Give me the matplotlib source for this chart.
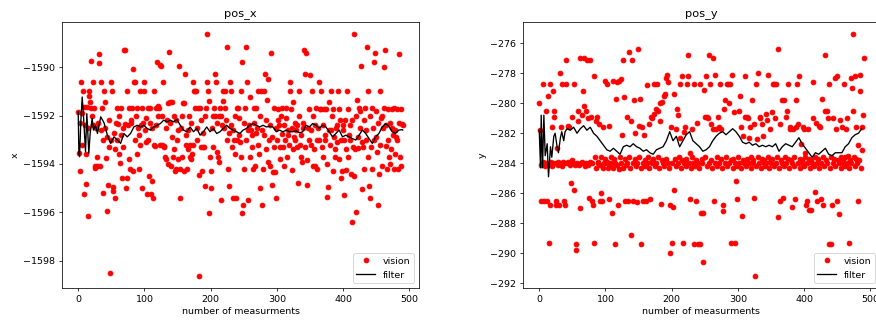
import numpy as np
import matplotlib
matplotlib.use("Agg")
import matplotlib.pyplot as plt

# vision measurements, x position (one value per measurement 0..490)
vision_x = [
    -1591.85, -1593.56, -1594.28, -1592.3, -1590.63, -1593.2, -1591.9, -1591.0, -1591.65, -1595.25,
    -1592.4, -1594.84, -1593.6, -1591.65, -1592.5, -1596.17, -1591.0, -1591.2, -1591.44, -1591.67,
    -1589.73, -1592.0, -1590.63, -1592.4, -1591.7, -1594.1, -1594.18, -1592.5, -1593.7, -1594.1,
    -1592.3, -1589.45, -1589.84, -1594.1, -1590.63, -1592.6, -1591.67, -1593.0, -1595.2, -1591.0,
    -1592.5, -1591.44, -1593.77, -1592.9, -1595.94, -1594.87, -1593.3, -1592.2, -1598.5, -1593.0,
    -1590.63, -1591.0, -1594.94, -1595.1, -1592.7, -1593.4, -1595.42, -1592.3, -1591.67, -1593.0,
    -1592.35, -1593.6, -1592.0, -1593.97, -1592.8, -1591.7, -1594.6, -1592.5, -1593.3, -1589.3,
    -1592.35, -1589.3, -1595.0, -1594.6, -1591.0, -1592.4, -1593.8, -1591.67, -1594.2, -1592.2,
    -1592.3, -1591.67, -1594.3, -1590.07, -1590.63, -1593.0, -1590.63, -1592.0, -1591.67, -1593.6,
    -1592.5, -1594.2, -1592.8, -1593.2, -1591.0, -1592.4, -1591.67, -1595.0, -1592.3, -1590.63,
    -1591.0, -1592.6, -1593.1, -1592.12, -1595.25, -1593.0, -1591.67, -1594.5, -1592.3, -1591.67,
    -1595.25, -1594.7, -1592.5, -1595.4, -1591.0, -1593.2, -1593.25, -1592.4, -1591.67, -1589.8,
    -1592.0, -1591.6, -1591.67, -1589.9, -1593.2, -1589.97, -1593.2, -1592.0, -1590.63, -1593.25,
    -1593.3, -1593.7, -1592.5, -1593.8, -1592.2, -1594.0, -1591.5, -1589.38, -1592.3, -1591.44,
    -1594.1, -1591.44, -1592.9, -1593.7, -1593.4, -1592.0, -1594.3, -1592.2, -1594.2, -1593.0,
    -1592.6, -1593.8, -1589.97, -1595.42, -1594.22, -1592.5, -1593.7, -1592.0, -1591.5, -1594.3,
    -1591.5, -1590.3, -1592.8, -1593.2, -1594.2, -1592.6, -1593.4, -1592.0, -1593.2, -1593.7,
    -1593.8, -1592.3, -1593.6, -1593.2, -1590.63, -1591.0, -1591.0, -1591.67, -1591.0, -1592.5,
    -1593.0, -1591.67, -1594.47, -1598.63, -1591.67, -1592.2, -1593.3, -1594.3, -1592.7, -1593.3,
    -1593.3, -1592.0, -1594.9, -1591.7, -1590.63, -1588.63, -1591.0, -1591.4, -1596.04, -1593.7,
    -1594.3, -1595.0, -1592.5, -1592.0, -1593.3, -1591.7, -1590.3, -1592.0, -1590.63, -1593.5,
    -1592.3, -1593.7, -1592.0, -1593.9, -1591.67, -1592.0, -1595.5, -1592.4, -1591.0, -1591.4,
    -1592.5, -1591.67, -1591.0, -1592.2, -1593.0, -1589.15, -1594.2, -1592.7, -1594.9, -1590.63,
    -1592.4, -1591.0, -1593.3, -1592.6, -1595.42, -1593.0, -1592.0, -1593.6, -1595.42, -1591.67,
    -1593.0, -1591.7, -1592.1, -1592.8, -1593.1, -1593.7, -1591.0, -1596.04, -1589.8, -1595.7,
    -1592.3, -1594.2, -1591.7, -1593.0, -1589.15, -1590.63, -1592.6, -1595.5, -1592.4, -1591.23,
    -1593.7, -1592.6, -1592.8, -1593.3, -1594.2, -1592.3, -1591.67, -1594.1, -1592.7, -1591.7,
    -1592.5, -1593.2, -1591.0, -1593.6, -1595.0, -1592.0, -1591.0, -1595.7, -1592.6, -1594.2,
    -1591.0, -1592.8, -1590.3, -1593.4, -1592.2, -1591.34, -1593.9, -1590.5, -1593.0, -1594.1,
    -1592.4, -1589.42, -1594.87, -1592.9, -1594.33, -1593.3, -1591.7, -1594.33, -1595.42, -1592.5,
    -1593.0, -1592.2, -1591.71, -1592.4, -1593.8, -1593.3, -1592.0, -1592.75, -1591.7, -1593.3,
    -1594.1, -1592.4, -1593.0, -1592.12, -1591.7, -1593.7, -1592.6, -1592.8, -1593.2, -1590.63,
    -1591.0, -1591.71, -1592.5, -1594.25, -1593.4, -1591.44, -1592.9, -1593.0, -1592.3, -1592.6,
    -1593.3, -1592.4, -1594.77, -1592.0, -1590.99, -1593.2, -1593.7, -1592.8, -1593.9, -1592.5,
    -1592.3, -1589.3, -1590.3, -1593.3, -1589.42, -1593.84, -1594.87, -1592.5, -1591.71, -1593.0,
    -1590.34, -1592.6, -1593.2, -1591.0, -1592.0, -1594.1, -1593.4, -1592.4, -1594.1, -1591.7,
    -1592.99, -1594.2, -1592.5, -1590.63, -1593.0, -1591.71, -1591.0, -1591.71, -1593.3, -1593.7,
    -1592.4, -1591.71, -1593.0, -1592.8, -1591.71, -1594.0, -1595.38, -1594.97, -1592.6, -1591.44,
    -1593.2, -1590.99, -1592.6, -1592.0, -1594.3, -1591.71, -1592.9, -1593.4, -1593.7, -1592.5,
    -1593.1, -1592.4, -1591.0, -1593.8, -1591.71, -1592.2, -1593.0, -1594.6, -1594.3, -1592.6,
    -1592.4, -1593.0, -1595.3, -1592.2, -1593.4, -1594.25, -1591.0, -1591.71, -1593.7, -1592.8,
    -1593.0, -1592.4, -1594.4, -1596.38, -1592.2, -1593.3, -1588.63, -1594.5, -1593.4, -1595.97,
    -1592.0, -1591.34, -1592.9, -1593.35, -1591.7, -1592.5, -1591.8, -1589.97, -1595.05, -1593.1,
    -1593.3, -1592.2, -1594.2, -1591.67, -1592.6, -1593.0, -1589.15, -1593.7, -1591.0, -1594.9,
    -1595.42, -1592.0, -1593.3, -1591.7, -1594.2, -1592.5, -1589.8, -1593.0, -1589.4, -1591.8,
    -1592.9, -1593.5, -1595.7, -1592.3, -1594.4, -1591.0, -1593.2, -1592.1, -1594.1, -1592.0,
    -1592.5, -1590.0, -1591.7, -1589.3, -1593.25, -1592.4, -1594.2, -1591.71, -1593.0, -1593.7,
    -1592.3, -1594.0, -1593.4, -1591.71, -1592.5, -1592.8, -1594.2, -1591.7, -1593.6, -1592.6,
    -1592.9, -1591.71, -1593.0, -1594.2, -1592.3, -1589.45, -1593.7, -1594.1, -1591.71, -1592.35,
    -1592.4,
]

# vision measurements, y position
vision_y = [
    -280.0, -281.8, -284.1, -286.5, -284.0, -283.9, -278.7, -286.5, -284.2, -284.0,
    -280.5, -284.0, -286.5, -279.5, -284.1, -289.3, -286.8, -278.7, -283.9, -284.2,
    -281.6, -279.2, -280.5, -280.9, -284.0, -286.5, -286.8, -283.0, -284.1, -283.9,
    -286.8, -278.0, -284.0, -281.6, -284.2, -278.7, -283.9, -284.0, -286.5, -286.8,
    -277.1, -278.7, -284.0, -281.5, -283.9, -281.6, -284.1, -284.0, -285.3, -283.8,
    -280.9, -284.0, -278.7, -285.8, -284.1, -289.8, -289.4, -284.0, -280.5, -281.2,
    -284.1, -277.0, -287.0, -284.0, -280.8, -283.9, -279.2, -277.0, -280.2, -284.2,
    -280.5, -284.0, -277.1, -281.0, -284.1, -286.3, -283.9, -277.1, -280.9, -284.0,
    -286.5, -286.8, -278.2, -289.3, -283.6, -284.3, -281.2, -280.9, -284.0, -283.9,
    -281.4, -286.5, -284.1, -286.0, -283.6, -286.5, -284.3, -281.6, -284.0, -283.7,
    -278.5, -284.0, -278.7, -283.9, -284.3, -286.4, -281.5, -284.1, -283.6, -284.0,
    -287.3, -284.3, -278.5, -283.7, -284.0, -289.4, -279.7, -278.6, -284.1, -286.8,
    -284.4, -278.5, -283.6, -278.4, -284.0, -282.1, -277.1, -284.3, -279.6, -286.5,
    -283.7, -284.1, -280.9, -284.0, -286.5, -276.6, -283.6, -284.3, -281.2, -288.8,
    -277.1, -284.0, -286.5, -279.8, -283.7, -282.0, -284.2, -286.6, -284.0, -276.4,
    -283.6, -281.5, -279.7, -289.4, -284.3, -281.6, -284.0, -286.5, -282.1, -283.8,
    -284.2, -286.5, -284.0, -278.8, -283.6, -281.4, -284.3, -286.4, -283.9, -280.9,
    -284.0, -281.0, -283.7, -278.7, -280.7, -284.2, -280.4, -284.0, -278.7, -283.6,
    -280.5, -284.3, -281.2, -280.0, -286.7, -283.8, -279.9, -284.0, -279.5, -284.2,
    -279.4, -278.3, -283.7, -278.1, -284.0, -278.6, -284.3, -286.8, -290.0, -281.6,
    -289.3, -284.0, -286.9, -285.8, -279.4, -283.7, -284.2, -281.7, -280.4, -280.8,
    -284.0, -283.6, -282.3, -278.7, -284.3, -283.8, -278.2, -289.3, -284.0, -281.9,
    -281.6, -284.2, -283.7, -278.7, -276.8, -278.2, -284.0, -286.4, -283.3, -284.3,
    -281.7, -283.6, -284.0, -278.7, -289.4, -284.2, -286.5, -283.8, -281.3, -284.0,
    -289.4, -284.3, -278.7, -289.4, -287.3, -283.7, -284.0, -290.6, -287.3, -279.1,
    -283.6, -280.9, -278.2, -280.9, -284.2, -281.0, -276.8, -284.0, -278.7, -281.4,
    -283.8, -284.3, -281.7, -277.0, -286.5, -284.0, -278.1, -281.7, -283.6, -284.2,
    -280.9, -281.6, -284.0, -278.7, -283.7, -281.7, -284.3, -287.2, -286.8, -280.4,
    -284.0, -279.8, -283.6, -278.7, -284.2, -278.7, -280.0, -284.0, -278.7, -283.8,
    -289.3, -278.1, -284.3, -283.7, -280.6, -284.0, -289.3, -285.2, -286.4, -284.2,
    -283.6, -280.5, -284.0, -279.5, -281.6, -284.3, -287.5, -283.8, -282.2, -284.0,
    -280.9, -278.2, -284.2, -280.9, -283.7, -281.0, -284.0, -282.3, -281.6, -283.6,
    -284.3, -279.8, -283.8, -284.0, -286.3, -281.4, -291.5, -284.2, -278.7, -282.4,
    -283.6, -278.0, -284.0, -281.0, -280.9, -284.3, -283.7, -281.4, -282.2, -284.0,
    -283.8, -284.2, -280.7, -284.0, -281.1, -283.6, -278.1, -284.3, -283.9, -281.7,
    -284.0, -280.6, -283.7, -278.7, -278.7, -284.2, -281.0, -284.0, -278.7, -283.6,
    -276.4, -287.6, -284.3, -281.4, -286.5, -283.8, -284.0, -279.8, -286.3, -279.8,
    -284.2, -283.6, -280.9, -284.0, -280.5, -283.7, -278.7, -284.3, -281.6, -281.7,
    -283.8, -286.9, -284.0, -281.7, -284.2, -283.6, -286.4, -279.8, -281.6, -278.7,
    -284.0, -281.4, -278.2, -283.7, -284.3, -282.7, -283.8, -284.0, -281.6, -281.7,
    -284.2, -283.3, -283.6, -286.8, -286.5, -284.0, -281.7, -287.1, -283.7, -284.3,
    -283.8, -287.1, -284.0, -281.0, -278.6, -284.2, -285.9, -283.6, -281.3, -286.5,
    -284.0, -283.7, -281.5, -284.3, -281.6, -286.4, -284.0, -279.7, -283.6, -286.8,
    -284.2, -280.5, -276.8, -283.8, -280.5, -284.0, -281.0, -289.4, -278.7, -284.3,
    -289.4, -283.6, -286.8, -284.0, -281.0, -283.7, -278.3, -284.2, -281.7, -286.5,
    -278.2, -283.8, -287.4, -284.0, -281.1, -283.6, -284.3, -281.6, -284.0, -283.7,
    -278.7, -284.2, -283.6, -281.7, -284.0, -281.0, -283.5, -284.3, -289.3, -283.8,
    -278.3, -284.0, -279.0, -275.4, -280.5, -283.6, -284.2, -278.2, -283.7, -281.6,
    -284.0, -282.8, -286.5, -283.8, -279.2, -278.1, -284.3, -281.6, -283.1, -280.8,
    -277.0,
]

# filter output, x position
filter_x_idx = [0, 1, 2, 4, 6, 8, 11, 13, 16, 18, 21, 23, 26, 29] + list(range(34, 490, 5)) + [490]
filter_x = [
    -1591.85, -1593.6, -1593.7, -1592.2, -1591.23, -1592.05, -1593.49, -1591.92, -1593.56, -1592.74,
    -1592.12, -1592.6, -1592.4, -1592.74,
    -1592.05, -1592.3, -1592.81, -1593.15, -1592.88, -1593.01, -1593.15, -1592.74, -1592.88, -1592.74,
    -1592.47, -1592.40, -1592.47, -1592.40, -1592.53, -1592.60, -1592.47, -1592.40, -1592.33, -1592.19,
    -1592.26, -1592.19, -1592.26, -1592.16, -1592.40, -1592.60, -1592.67, -1592.47, -1592.67, -1592.53,
    -1592.81, -1592.67, -1592.47, -1592.67, -1592.53, -1592.74, -1592.67, -1592.53, -1592.40, -1592.53,
    -1592.60, -1592.67, -1592.74, -1592.60, -1592.53, -1592.40, -1592.33, -1592.40, -1592.47, -1592.40,
    -1592.47, -1592.44, -1592.47, -1592.67, -1592.60, -1592.67, -1592.60, -1592.67, -1592.67, -1592.63,
    -1592.71, -1592.67, -1592.40, -1592.47, -1592.33, -1592.40, -1592.53, -1592.40, -1592.47, -1592.67,
    -1592.88, -1592.74, -1592.60, -1592.88, -1592.81, -1592.88, -1592.95, -1593.01, -1592.81, -1592.60,
    -1592.74, -1592.95, -1593.15, -1592.88, -1592.74, -1592.47, -1592.33, -1592.44, -1592.67, -1592.74,
    -1592.60, -1592.58,
    -1592.6,
]

# filter output, y position
filter_y_idx = [0, 2, 3, 5, 7, 9, 12, 14, 17, 19, 22, 24, 27, 29, 32, 34, 37, 39] + list(range(42, 490, 5))
filter_y = [
    -281.8, -284.3, -280.8, -284.3, -280.8, -283.5, -282.7, -284.9, -282.9, -283.6,
    -282.2, -282.0, -282.9, -283.3, -282.3, -281.9, -282.5, -281.9,
    -281.7, -281.8, -281.6, -282.0, -281.7, -281.5, -281.8, -281.6, -282.0, -282.2,
    -282.5, -282.8, -283.1, -283.2, -283.0, -283.2, -283.4, -282.9, -282.8, -282.9,
    -282.7, -282.9, -283.0, -283.2, -283.1, -283.3, -283.4, -283.1, -283.0, -282.9,
    -282.5, -281.9, -282.5, -282.2, -282.9, -282.5, -282.1, -281.9, -282.5, -282.7,
    -282.9, -283.2, -283.1, -282.9, -282.5, -282.2, -282.0, -281.9, -282.1, -281.9,
    -281.7, -281.9, -282.2, -282.6, -282.7, -282.6, -282.8, -282.7, -282.9, -282.8,
    -282.9, -282.8, -282.9, -282.7, -283.2, -282.9, -282.7, -282.8, -282.9, -282.6,
    -282.3, -282.7, -283.0, -283.3, -283.6, -283.3, -283.4, -283.2, -283.0, -283.4,
    -283.5, -283.3, -283.3, -283.3, -282.9, -282.7, -282.3, -282.1, -282.0, -281.7,
]

DPI = 68
fig = plt.figure(figsize=(876 / DPI, 322 / DPI), dpi=DPI)
W, H = 876.0, 322.0
ax1 = fig.add_axes([62 / W, 34 / H, 357 / W, 266 / H])
ax2 = fig.add_axes([523 / W, 34 / H, 357 / W, 266 / H])

panels = [
    (ax1, vision_x, filter_x_idx, filter_x, "pos_x", "x"),
    (ax2, vision_y, filter_y_idx, filter_y, "pos_y", "y"),
]
for ax, vis, f_idx, filt, title, ylab in panels:
    ax.plot(np.arange(len(vis)), vis, "ro", markersize=5, label="vision")
    ax.plot(f_idx, filt, "k-", linewidth=1.4, label="filter")
    ax.set_title(title)
    ax.set_xlabel("number of measurments")
    ax.set_ylabel(ylab)
    ax.legend(loc="lower right")

ax1.set_yticks([-1590, -1592, -1594, -1596, -1598])
ax2.set_yticks(list(range(-292, -274, 2)))

fig.savefig("out.png", dpi=DPI)
